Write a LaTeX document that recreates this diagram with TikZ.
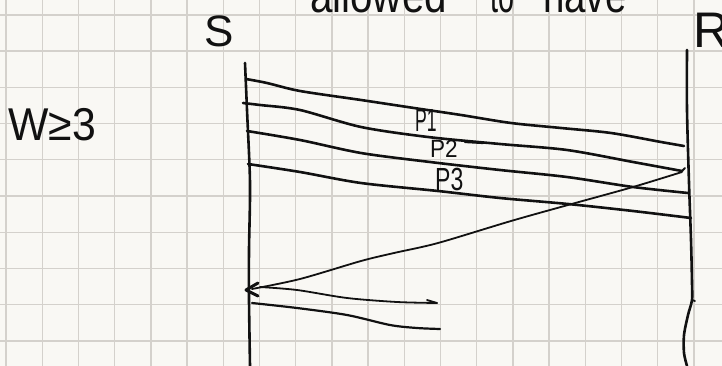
\documentclass[tikz,border=0pt]{standalone}
\usepackage{fontspec}
\setmainfont{Liberation Sans}
\definecolor{paper}{HTML}{F9F8F4}
\definecolor{gridc}{HTML}{D4D1CC}
\definecolor{ink}{HTML}{111111}
\begin{document}
\begin{tikzpicture}[x=1pt,y=-1pt,
  gridline/.style={draw=gridc, line width=1.4pt},
  pen/.style={draw=ink, line width=2.6pt, line cap=round, line join=round},
  thinpen/.style={draw=ink, line width=1.8pt, line cap=round, line join=round},
  hand/.style={inner sep=0pt, anchor=base west, text=ink}]
\useasboundingbox (0,0) rectangle (722,366);
\clip (0,0) rectangle (722,366);
\fill[paper] (0,0) rectangle (722,366);
% grid paper
\foreach \i in {0,...,19} \draw[gridline] ({6+36.2*\i},0) -- ({6+36.2*\i},366);
\foreach \j in {0,...,9} \draw[gridline] (0,{15+36.2*\j}) -- (722,{15+36.2*\j});

% heading (cut off at top, as in the sketch)
\node[hand, xscale=0.84] (h1) at (310,13) {\fontsize{48}{54}\selectfont allowed};
\node[hand, xscale=0.6] (h2) at (490,13) {\fontsize{48}{54}\selectfont to};
\node[hand, xscale=0.8] (h3) at (543,13) {\fontsize{48}{54}\selectfont have};

% labels
\node[hand] (S) at (204,47) {\fontsize{44}{50}\selectfont S};
\node[hand] (R) at (693,48) {\fontsize{50}{56}\selectfont R};
\node[hand, xscale=0.93] (W) at (8,141) {\fontsize{46}{52}\selectfont W≥3};

% time lines
\coordinate (s0) at (245,63);
\coordinate (s1) at (250,366);
\coordinate (r0) at (687,50);
\coordinate (r1) at (687,366);
\draw[pen] plot[smooth, tension=0.5] coordinates {(s0) (247,110) (250,183) (249,250) (249,300) (s1)};
\draw[pen] plot[smooth, tension=0.5] coordinates {(r0) (687,110) (689,183) (691,240) (692,283) (692,300) (688,315) (684,335) (684,353) (r1)};
\draw[thinpen] (692,300) -- (695,301);

% packets
\coordinate (a1) at (246,79);  \coordinate (b1) at (684,146);
\coordinate (a2) at (243,103); \coordinate (b2) at (682,171);
\coordinate (a3) at (247,131); \coordinate (b3) at (688,193);
\coordinate (a4) at (248,164); \coordinate (b4) at (691,218);
\draw[pen] plot[smooth, tension=0.5] coordinates {(a1) (267,83) (300,91) (361,100) (414,108) (461,115) (511,123) (561,128) (611,133) (661,142) (b1)};
\draw[pen] plot[smooth, tension=0.5] coordinates {(a2) (260,105) (300,110) (361,127) (428,137) (500,144) (567,150) (633,162) (b2)};
\draw[pen] plot[smooth, tension=0.5] coordinates {(a3) (300,140) (361,153) (430,162) (500,170) (567,177) (633,187) (b3)};
\draw[pen] plot[smooth, tension=0.5] coordinates {(a4) (300,172) (361,183) (438,191) (500,198) (568,204) (633,211) (b4)};
\draw[thinpen] (b2) -- (685,168);

% packet labels
\node[hand, xscale=0.55] (P1) at (415,132) {\fontsize{32}{36}\selectfont P1};
\node[hand, xscale=0.9] (P2) at (430,158) {\fontsize{25}{30}\selectfont P2};
\node[hand, xscale=0.72] (P3) at (435,190) {\fontsize{32}{36}\selectfont P3};
\draw[pen, line width=2.2pt] (465,142) -- (483,143);

% ack
\coordinate (c0) at (682,172);
\coordinate (c1) at (252,289);
\draw[thinpen] plot[smooth, tension=0.5] coordinates {(c0) (633,187) (568,205) (511,221) (438,243) (394,253) (361,261) (300,279) (c1)};
\draw[pen, line width=3pt] (258,283) -- (246,290) -- (258,296);

% new packets
\coordinate (d1) at (260,287); \coordinate (e1) at (437,303);
\coordinate (d2) at (252,303); \coordinate (e2) at (440,329);
\draw[thinpen] plot[smooth, tension=0.5] coordinates {(d1) (297,290) (347,298) (397,302) (e1)};
\draw[thinpen] (427,300) -- (e1);
\draw[pen, line width=2.2pt] plot[smooth, tension=0.5] coordinates {(d2) (297,308) (347,315) (390,325) (417,328) (e2)};
\end{tikzpicture}
\end{document}
